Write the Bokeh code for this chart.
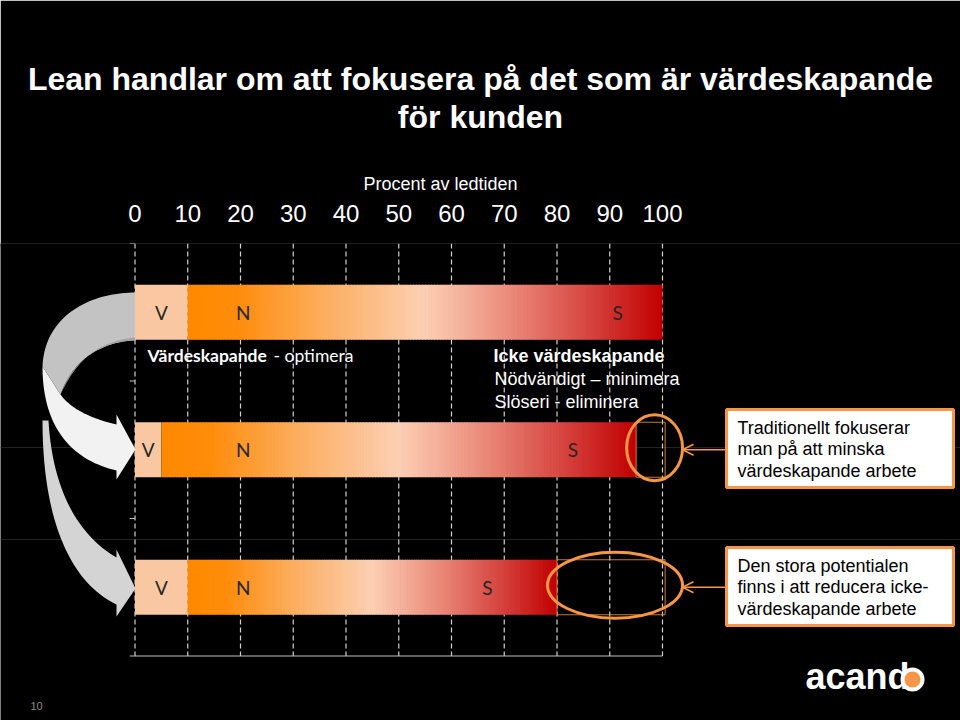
import numpy as np
from bokeh.plotting import figure
from bokeh.models import Range1d, FixedTicker, Arrow, OpenHead, Title
from bokeh.core.properties import value
from bokeh.embed import file_html
from bokeh.resources import INLINE

# ---------------- data ----------------
pct_ticks = [0, 10, 20, 30, 40, 50, 60, 70, 80, 90, 100]
tick_labels = [str(t) for t in pct_ticks]
rows = ["Ledtid", "Traditionellt", "Lean"]
value_share = [10, 5, 10]        # V  (värdeskapande)
nonvalue_end = [100, 95, 80]     # end of N + S (icke värdeskapande)
total_end = [100, 100, 100]      # ursprunglig ledtid
label_v_x = [5, 2.5, 5]
label_n_x = [20.5, 20.5, 20.5]
label_s_x = [91.5, 83, 66.8]
callout_1 = ["Traditionellt fokuserar", "man på att minska", "värdeskapande arbete"]
callout_2 = ["Den stora potentialen", "finns i att reducera icke-", "värdeskapande arbete"]

# ---------------- layout helpers (pixel -> data) ----------------
X0, XS = 134.5, 5.275
FRAME_TOP, ROW_H = 243.0, 137.5
def dx(px): return (np.asarray(px, dtype=float) - X0) / XS
def dy(py): return (np.asarray(py, dtype=float) - FRAME_TOP) / ROW_H - 0.5

FONT = "Liberation Sans"
ORANGE = "#F79646"

p = figure(width=960, height=720, output_backend="svg", toolbar_location=None,
           x_range=Range1d(float(dx(0)), float(dx(960))),
           y_range=Range1d(float(dy(720)), float(dy(243))),
           x_axis_location="above", y_axis_location=None,
           min_border_left=0, min_border_right=0, min_border_bottom=0, min_border_top=243,
           background_fill_color="black", border_fill_color="black",
           outline_line_color=None,
           title="Lean handlar om att fokusera på det som är värdeskapande")

p.title.align = "center"
p.title.text_font = FONT
p.title.text_font_size = "32px"
p.title.text_font_style = "bold"
p.title.text_color = "white"
p.title.standoff = 0

# axis
ax = p.xaxis[0]
ax.ticker = FixedTicker(ticks=pct_ticks)
ax.major_label_overrides = {t: l for t, l in zip(pct_ticks, tick_labels)}
ax.axis_line_color = None
ax.major_tick_line_color = None
ax.minor_tick_line_color = None
ax.major_tick_out = 0
ax.major_tick_in = 0
ax.major_label_text_color = "white"
ax.major_label_text_font = FONT
ax.major_label_text_font_size = "24px"
ax.major_label_standoff = 22
nb = "\u00a0" * 16
ax.axis_label = "Procent av ledtiden" + nb
ax.axis_label_text_color = "white"
ax.axis_label_text_font = FONT
ax.axis_label_text_font_size = "18px"
ax.axis_label_text_font_style = "normal"
ax.axis_label_standoff = 8

# blank spacer between axis label and the title block
spacer = Title(text="\u00a0", align="center", text_font=FONT, text_font_size="30.5px",
               text_color="black", standoff=0)
p.add_layout(spacer, "above")
sub = Title(text="för kunden", align="center", text_font=FONT,
            text_font_size="32px", text_font_style="bold", text_color="white", standoff=0)
p.add_layout(sub, "above")

p.xgrid.grid_line_color = None
p.ygrid.grid_line_color = None

# cover the seam at the top edge of the plot area
p.segment(x0=[dx(0)], x1=[dx(960)], y0=[-0.5], y1=[-0.5], line_color="black", line_width=6)

# faint template lines
p.segment(x0=[dx(0)] * 2, x1=[dx(960)] * 2, y0=[dy(447), dy(539)], y1=[dy(447), dy(539)],
          line_color="#222222", line_width=1)

# dashed grid
n_rows = len(rows)
p.segment(x0=pct_ticks, x1=pct_ticks, y0=-0.5, y1=n_rows - 0.5,
          line_color="#d0d0d0", line_dash="5 3", line_width=1.2)
# base line and left ticks
p.segment(x0=[-1], x1=[100], y0=[n_rows - 0.5], y1=[n_rows - 0.5], line_color="#bfbfbf", line_width=1.2)
bounds = [i - 0.5 for i in range(n_rows)]
p.segment(x0=[-1] * len(bounds), x1=[0] * len(bounds), y0=bounds, y1=bounds,
          line_color="#bfbfbf", line_width=1.2)

# ---------------- curved arrows on the left ----------------
def bez(p0, p1, p2, p3, n=40):
    t = np.linspace(0, 1, n)[:, None]
    pts = ((1 - t) ** 3) * np.array(p0) + 3 * ((1 - t) ** 2) * t * np.array(p1) \
        + 3 * (1 - t) * t ** 2 * np.array(p2) + t ** 3 * np.array(p3)
    return [tuple(r) for r in pts]

def poly(parts):
    pts = []
    for part in parts:
        pts.extend(part)
    xs = dx([q[0] for q in pts]); ys = dy([q[1] for q in pts])
    return list(xs), list(ys)

lower = poly([bez((48, 420), (52, 490), (78, 535), (116, 557)),
              [(116, 549), (135, 588), (116, 616), (116, 604)],
              bez((116, 604), (70, 582), (42, 520), (42, 420))])
white = poly([bez((42, 366), (42, 420), (65, 458), (116, 470)),
              [(116, 479), (135, 449), (116, 414), (116, 424)],
              bez((116, 424), (90, 418), (70, 408), (60, 394))])
top = poly([bez((135, 292), (90, 292), (44, 315), (42, 366)),
            bez((60, 394), (72, 360), (100, 341), (135, 340))])
dark = poly([bez((60, 394), (72, 360), (100, 341), (135, 340)),
             bez((135, 337), (102, 340), (78, 355), (60, 394))])
p.patch(lower[0], lower[1], fill_color="#D4D4D4", line_color=None)
p.patch(white[0], white[1], fill_color="#F2F2F2", line_color=None)
p.patch(top[0], top[1], fill_color="#C3C3C3", line_color=None)
p.patch(dark[0], dark[1], fill_color="#A3A3A3", line_color=None)

# ---------------- bars ----------------
BAR_H = 0.4
ys = list(range(n_rows))
p.quad(left=[0] * n_rows, right=value_share, top=[y - BAR_H / 2 for y in ys],
       bottom=[y + BAR_H / 2 for y in ys], fill_color="#F9C8A2", line_color=None)

stops = [(0.0, (255, 138, 0)), (0.1, (255, 140, 10)), (0.3, (252, 176, 100)),
         (0.5, (252, 207, 180)), (0.7, (232, 130, 115)), (0.86, (212, 62, 58)), (1.0, (192, 0, 0))]
st = np.array([s[0] for s in stops]); sc = np.array([s[1] for s in stops], dtype=float)
def grad_color(t):
    c = [np.interp(t, st, sc[:, k]) for k in range(3)]
    return "#%02x%02x%02x" % tuple(int(round(v)) for v in c)

gl, gr, gt, gb, gc = [], [], [], [], []
N = 160
for i in range(n_rows):
    a, b = value_share[i], nonvalue_end[i]
    edges = np.linspace(a, b, N + 1)
    for k in range(N):
        gl.append(edges[k]); gr.append(min(edges[k + 1] + 0.15, b))
        gt.append(i - BAR_H / 2); gb.append(i + BAR_H / 2)
        gc.append(grad_color((k + 0.5) / N))
p.quad(left=gl, right=gr, top=gt, bottom=gb, fill_color=gc, line_color=None)

# removed parts (outlined)
rem = [i for i in range(n_rows) if nonvalue_end[i] < total_end[i]]
p.quad(left=[nonvalue_end[i] for i in rem], right=[total_end[i] + 0.5 for i in rem],
       top=[i - BAR_H / 2 for i in rem], bottom=[i + BAR_H / 2 for i in rem],
       fill_color=None, line_color=ORANGE, line_width=1, line_alpha=0.8)
# ellipses
ell_l = [nonvalue_end[i] - 1.8 for i in rem]
ell_r = [total_end[i] + 3.8 for i in rem]
p.ellipse(x=[(l + r) / 2 for l, r in zip(ell_l, ell_r)], y=[i - 0.015 for i in rem],
          width=[r - l for l, r in zip(ell_l, ell_r)], height=0.48,
          fill_color=None, line_color=ORANGE, line_width=3)

# V N S labels
lab_font = value("Lato")
for xs_, t in [(label_v_x, "V"), (label_n_x, "N"), (label_s_x, "S")]:
    p.text(x=xs_, y=ys, text=[t] * n_rows, text_align="center", text_baseline="middle",
           text_font=lab_font, text_font_size="19px", text_color="#262626")

# texts under top bar
p.text(x=[dx(147)], y=[dy(355)], text=["Värdeskapande"], text_font=value("Lato"),
       text_font_style="bold", text_font_size="17.5px", text_color="white",
       text_baseline="middle")
p.text(x=[dx(273)], y=[dy(355)], text=["- optimera"], text_font=value("Lato"),
       text_font_size="17.5px", text_color="white", text_baseline="middle")
p.text(x=[dx(493)], y=[dy(355)], text=["Icke värdeskapande"], text_font=value(FONT),
       text_font_style="bold", text_font_size="18px", text_color="white", text_baseline="middle")
p.text(x=[dx(494)] * 2, y=[dy(378), dy(401)], text=["Nödvändigt – minimera", "Slöseri - eliminera"],
       text_font=value(FONT), text_font_size="18px", text_color="white", text_baseline="middle")

# callouts
for i, lines, (ytop, ybot) in [(1, callout_1, (409, 487)), (2, callout_2, (547, 625))]:
    p.quad(left=[dx(726)], right=[dx(953)], top=[dy(ytop)], bottom=[dy(ybot)],
           fill_color="white", line_color=ORANGE, line_width=3)
    p.text(x=[dx(737)] * 3, y=[dy(ytop + 18 + 21.5 * k) for k in range(3)], text=lines,
           text_font=value(FONT), text_font_size="18px", text_color="black", text_baseline="middle")
    p.add_layout(Arrow(end=OpenHead(size=11, line_color=ORANGE, line_width=1.5),
                       x_start=float(dx(726)), y_start=i, x_end=total_end[i] + 3.8, y_end=i,
                       line_color=ORANGE, line_width=1.5))

# page number and logo
p.text(x=[dx(30)], y=[dy(705)], text=["10"], text_font=value(FONT), text_font_size="11px",
       text_color="#8c8c8c", text_baseline="middle")
p.text(x=[dx(805)], y=[dy(676)], text=["acand"], text_font=value(FONT), text_font_style="bold",
       text_font_size="36px", text_color="white", text_baseline="middle")
p.scatter(x=[dx(912)], y=[dy(679)], size=20, marker="circle", fill_color=ORANGE,
          line_color="white", line_width=4)

open("out.html", "w").write(file_html(p, INLINE))
